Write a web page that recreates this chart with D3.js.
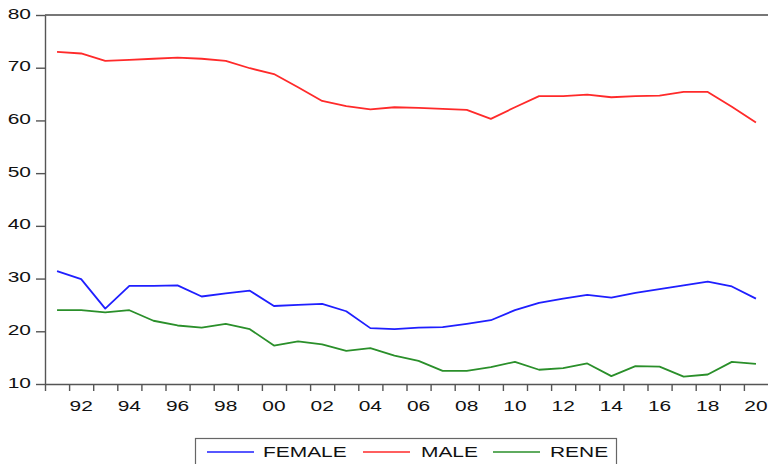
<!DOCTYPE html>
<html><head><meta charset="utf-8">
<script src="https://cdn.jsdelivr.net/npm/d3@7"></script>
<style>
html,body{margin:0;padding:0;background:#fff;}
svg{display:block;font-family:"Liberation Sans",Arial,sans-serif;}
</style></head>
<body><svg id="c" width="768" height="464"></svg>
<script>
const years = d3.range(1991, 2021);
const female = [31.4,29.9,24.3,28.6,28.6,28.7,26.6,27.2,27.7,24.8,25.0,25.2,23.8,20.6,20.4,20.7,20.8,21.4,22.1,24.0,25.4,26.2,26.9,26.4,27.3,28.0,28.7,29.4,28.5,26.2];
const male = [73.0,72.7,71.3,71.5,71.7,71.9,71.7,71.3,69.9,68.8,66.3,63.7,62.7,62.1,62.5,62.4,62.2,62.0,60.3,62.5,64.6,64.6,64.9,64.4,64.6,64.7,65.4,65.4,62.6,59.6];
const rene = [24.0,24.0,23.6,24.0,22.0,21.1,20.7,21.4,20.4,17.3,18.1,17.5,16.3,16.8,15.4,14.4,12.5,12.5,13.2,14.2,12.7,13.0,13.9,11.5,13.4,13.3,11.4,11.8,14.2,13.8];
const yTicks = [10,20,30,40,50,60,70,80];
const xLabelYears = d3.range(1992, 2021, 2);
const seriesNames = ["FEMALE","MALE","RENE"];
const seriesColors = ["#1f1fff","#ff2a2a","#2a8f2a"];

const SX = 1.35; // horizontal text stretch seen in reference
const FS = 15.5;
const svg = d3.select("#c");
const L = 45, R = 768, T = 15, B = 384;
const x = d3.scaleLinear().domain([1990.5, 2020.5]).range([L, R]);
const y = d3.scaleLinear().domain([10, 80]).range([B, T]);
const axisColor = "#555";

// top frame line
svg.append("line").attr("x1", L).attr("x2", R).attr("y1", T).attr("y2", T)
  .attr("stroke", "#777").attr("stroke-width", 2);

// y axis
const gy = svg.append("g").attr("transform", `translate(${L},0)`)
  .call(d3.axisLeft(y).tickValues(yTicks).tickSize(9).tickSizeOuter(0).tickFormat(d3.format("d")));
gy.select(".domain").attr("stroke", axisColor).attr("stroke-width", 1.4);
gy.selectAll(".tick line").attr("stroke", axisColor).attr("stroke-width", 1.4);
gy.selectAll(".tick text").attr("font-size", FS).attr("fill", "#111")
  .attr("font-family", "'Liberation Sans',Arial,sans-serif")
  .attr("x", -14 / SX).attr("dy", "0.2em").attr("transform", `scale(${SX},1)`);

// x axis: boundary ticks
const boundaries = d3.range(1990.5, 2020.5, 1);
const gx = svg.append("g").attr("transform", `translate(0,${B})`)
  .call(d3.axisBottom(x).tickValues(boundaries).tickSize(7).tickSizeOuter(0).tickFormat(""));
gx.select(".domain").attr("stroke", axisColor).attr("stroke-width", 1.4);
gx.selectAll(".tick line").attr("stroke", axisColor).attr("stroke-width", 1.4);

// x labels at even years
const gxl = svg.append("g").attr("transform", `translate(0,${B})`)
  .call(d3.axisBottom(x).tickValues(xLabelYears).tickSize(0).tickFormat(d => String(d % 100).padStart(2, "0")));
gxl.select(".domain").remove();
gxl.selectAll(".tick text").attr("font-size", FS).attr("fill", "#111")
  .attr("font-family", "'Liberation Sans',Arial,sans-serif")
  .attr("y", 16).attr("transform", `scale(${SX},1)`);
gxl.selectAll(".tick").each(function(d){
  d3.select(this).attr("transform", `translate(${x(d)},0)`);
});

// lines
const data = [female, male, rene];
const line = d3.line().x((d, i) => x(years[i])).y(d => y(d));
data.forEach((s, k) => {
  svg.append("path").datum(s).attr("d", line).attr("fill", "none")
    .attr("stroke", seriesColors[k]).attr("stroke-width", 1.8).attr("stroke-linejoin", "round");
});

// legend
const lg = svg.append("g");
lg.append("rect").attr("x", 195.5).attr("y", 438.5).attr("width", 421).attr("height", 40)
  .attr("fill", "#fff").attr("stroke", "#666").attr("stroke-width", 1.2);
const lx = [207, 363, 493];
const tx = [263, 421, 550];
seriesNames.forEach((n, k) => {
  lg.append("line").attr("x1", lx[k]).attr("x2", lx[k] + 47).attr("y1", 452).attr("y2", 452)
    .attr("stroke", seriesColors[k]).attr("stroke-width", 1.6);
  lg.append("text").attr("x", tx[k] / SX).attr("y", 457).attr("transform", `scale(${SX},1)`)
    .attr("font-size", FS).attr("fill", "#111").text(n);
});
</script>
</body></html>
